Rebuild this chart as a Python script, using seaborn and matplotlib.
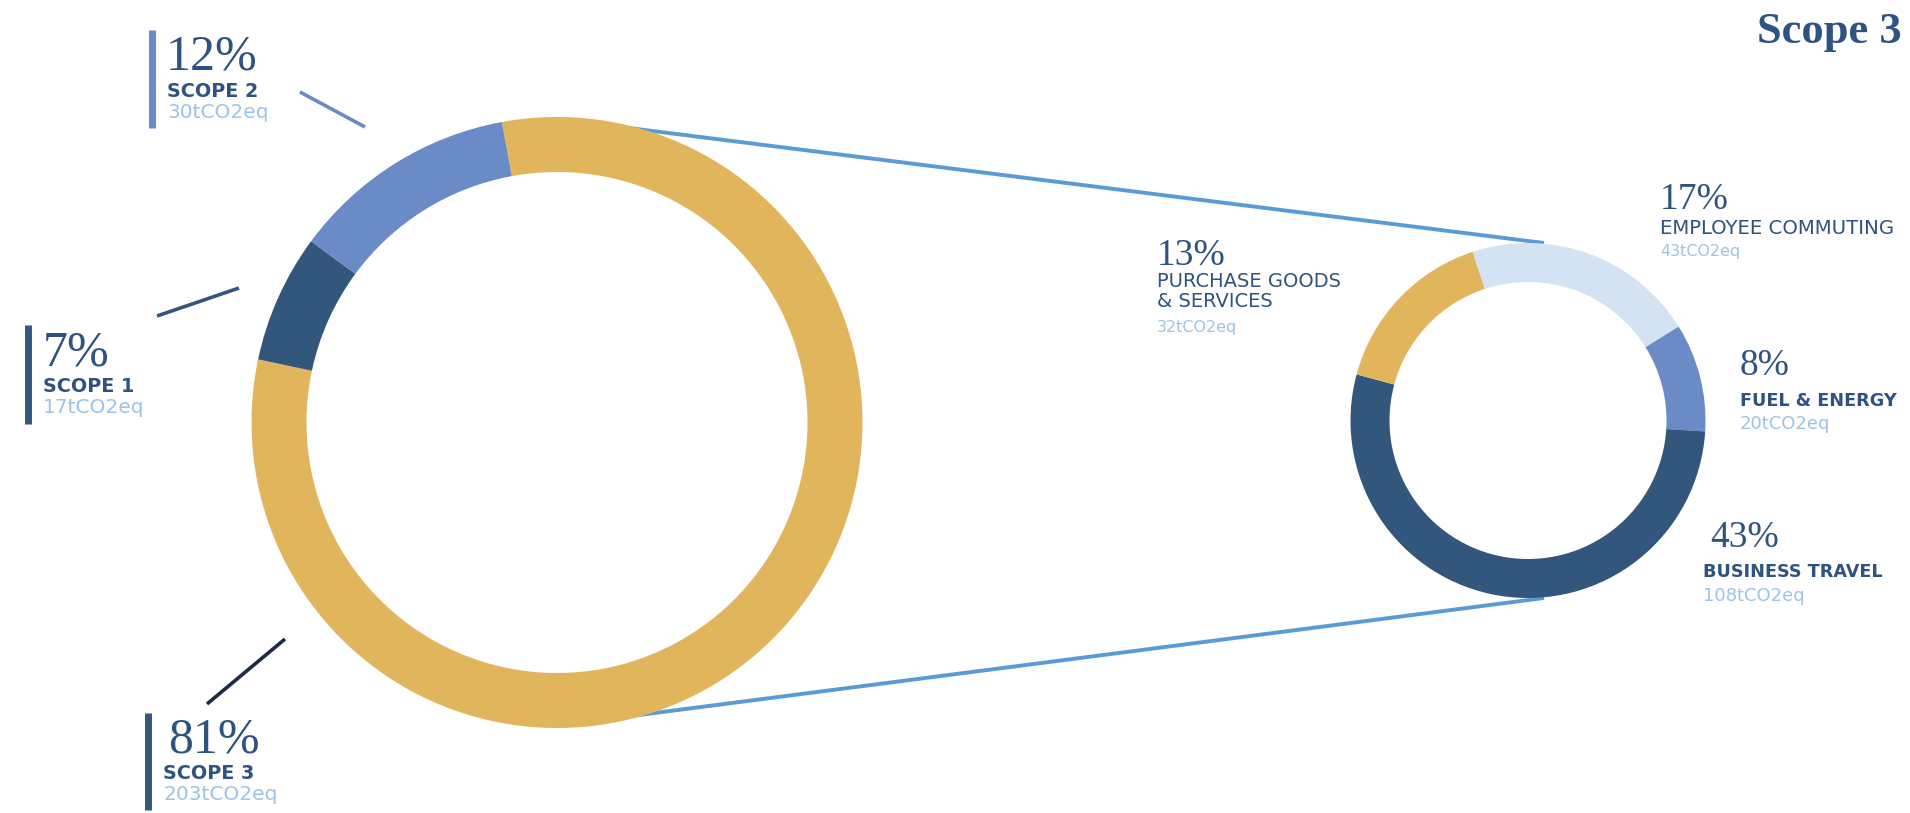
import matplotlib
matplotlib.use("Agg")
import matplotlib.pyplot as plt
import seaborn as sns

# ---- data -------------------------------------------------------------
scope_labels = ["SCOPE 3", "SCOPE 1", "SCOPE 2"]
scope_values = [203, 17, 30]          # tCO2eq
scope_pcts = [81, 7, 12]

cat_labels = ["EMPLOYEE COMMUTING", "FUEL & ENERGY", "BUSINESS TRAVEL",
              "PURCHASE GOODS\n& SERVICES"]
cat_values = [43, 20, 108, 32]        # tCO2eq
cat_pcts = [17, 8, 43, 13]

title = "Scope 3"

# ---- style ------------------------------------------------------------
sns.set_theme(style="white")
plt.rcParams["font.family"] = ["DejaVu Sans"]

NAVY = "#33567D"
MID = "#6A8BC5"
LIGHT = "#D3E3F4"
GOLD = "#E1B55C"
LINK = "#5B9BD5"
VALUE = "#9CC3E8"
TEXT = "#2F5380"

scope_colors = sns.color_palette([GOLD, NAVY, MID])
cat_colors = sns.color_palette([LIGHT, MID, NAVY, GOLD])

W, H = 1910, 813
fig = plt.figure(figsize=(W / 100, H / 100), dpi=100)
ax = fig.add_axes([0, 0, 1, 1])


def Y(y):
    # layout is described top-down in pixels
    return H - y


# ---- connector lines between the two rings (behind the rings) ---------
ax.plot([557, 1544], [Y(119), Y(243)], color=LINK, lw=2.8, zorder=0.5,
        solid_capstyle="butt")
ax.plot([554, 1544], [Y(726), Y(598)], color=LINK, lw=2.8, zorder=0.5,
        solid_capstyle="butt")

# ---- donuts -----------------------------------------------------------
ax.pie(scope_values, colors=scope_colors, startangle=100.4, counterclock=False,
       radius=305.5, center=(557, Y(422.5)),
       wedgeprops=dict(width=55, edgecolor="none", linewidth=0))
ax.pie(cat_values, colors=cat_colors, startangle=108.2, counterclock=False,
       radius=177.5, center=(1528, Y(420.5)),
       wedgeprops=dict(width=39, edgecolor="none", linewidth=0))

ax.set_xlim(0, W)
ax.set_ylim(0, H)
ax.set_aspect("auto")
ax.axis("off")

# ---- leader lines and side bars for the scope labels ------------------
ax.plot([300, 365], [Y(92), Y(127)], color=MID, lw=2.6, solid_capstyle="butt")
ax.plot([157, 239], [Y(316), Y(288)], color=NAVY, lw=2.6, solid_capstyle="butt")
ax.plot([285, 207], [Y(639), Y(704)], color="#1F2A44", lw=2.6,
        solid_capstyle="butt")

ax.plot([152, 152], [Y(30), Y(128)], color=MID, lw=5, solid_capstyle="butt")
ax.plot([28, 28], [Y(325), Y(424)], color=NAVY, lw=5, solid_capstyle="butt")
ax.plot([148, 148], [Y(713), Y(810)], color=NAVY, lw=5, solid_capstyle="butt")

SERIF = "Liberation Serif"


def scope_block(x, y_pct, i, x_lab=None):
    x_lab = x if x_lab is None else x_lab
    ax.text(x, Y(y_pct), f"{scope_pcts[i]}%", family=SERIF, fontsize=36,
            color=TEXT, va="baseline", ha="left")
    ax.text(x_lab, Y(y_pct + 27), scope_labels[i], fontsize=13.8,
            fontweight="bold", color=TEXT, va="baseline", ha="left")
    ax.text(x_lab, Y(y_pct + 48), f"{scope_values[i]}tCO2eq", fontsize=14.5,
            color=VALUE, va="baseline", ha="left")


scope_block(166, 70, 2, 167)   # Scope 2
scope_block(43, 365, 1)        # Scope 1
scope_block(168, 752, 0, 163)  # Scope 3


# ---- category labels around the small ring ----------------------------
def cat_pct(x, y, i):
    ax.text(x, Y(y), f"{cat_pcts[i]}%", family=SERIF, fontsize=27,
            color=TEXT, va="baseline", ha="left")


# Employee commuting
cat_pct(1660, 209, 0)
ax.text(1660, Y(234), cat_labels[0], fontsize=14.2, color=TEXT,
        va="baseline", ha="left")
ax.text(1660, Y(256), f"{cat_values[0]}tCO2eq", fontsize=11.5, color=VALUE,
        va="baseline", ha="left")

# Purchase goods & services, one text per line
cat_pct(1157, 265, 3)
for k, line in enumerate(cat_labels[3].split("\n")):
    ax.text(1157, Y(287 + 20 * k), line, fontsize=14, color=TEXT,
            va="baseline", ha="left")
ax.text(1157, Y(332), f"{cat_values[3]}tCO2eq", fontsize=11.5, color=VALUE,
        va="baseline", ha="left")

# Fuel & energy
cat_pct(1740, 375, 1)
ax.text(1740, Y(406), cat_labels[1], fontsize=12.7, fontweight="bold",
        color=TEXT, va="baseline", ha="left")
ax.text(1740, Y(429), f"{cat_values[1]}tCO2eq", fontsize=13, color=VALUE,
        va="baseline", ha="left")

# Business travel
cat_pct(1710, 547, 2)
ax.text(1703, Y(577), cat_labels[2], fontsize=12.7, fontweight="bold",
        color=TEXT, va="baseline", ha="left")
ax.text(1703, Y(601), f"{cat_values[2]}tCO2eq", fontsize=13, color=VALUE,
        va="baseline", ha="left")

# ---- title ------------------------------------------------------------
ax.text(1902, Y(43), title, family=SERIF, fontsize=32, fontweight="bold",
        color=TEXT, va="baseline", ha="right")

fig.savefig("out.png", dpi=100, facecolor="white")
